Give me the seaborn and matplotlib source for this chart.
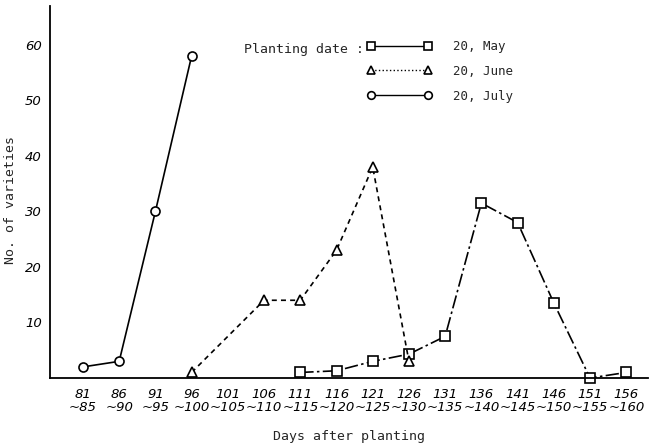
import matplotlib
matplotlib.use("Agg")
import matplotlib.pyplot as plt
import seaborn as sns
import pandas as pd
from matplotlib.lines import Line2D

# ---- data ----
categories = ["81\n~85", "86\n~90", "91\n~95", "96\n~100", "101\n~105", "106\n~110",
              "111\n~115", "116\n~120", "121\n~125", "126\n~130", "131\n~135",
              "136\n~140", "141\n~145", "146\n~150", "151\n~155", "156\n~160"]

may_idx = [6, 7, 8, 9, 10, 11, 12, 13, 14, 15]
may_vals = [1, 1.3, 3, 4.3, 7.5, 31.5, 28, 13.5, 0, 1]

june_idx = [3, 5, 6, 7, 8, 9]
june_vals = [1, 14, 14, 23, 38, 3]

july_idx = [0, 1, 2, 3]
july_vals = [2, 3, 30, 58]

y_ticks = [10, 20, 30, 40, 50, 60]
series_labels = ["20, May", "20, June", "20, July"]

# ---- figure ----
sns.set_theme(style="white")
plt.rcParams["font.family"] = ["DejaVu Sans"]

fig = plt.figure(figsize=(6.52, 4.44), dpi=100)
ax = fig.add_axes([50 / 652, 1 - 378 / 444, 598 / 652, 372 / 444])

mono = "DejaVu Sans Mono"
common = dict(color="black", linewidth=1.2, markersize=6.5, markerfacecolor="white",
              markeredgecolor="black", markeredgewidth=1.2, clip_on=False,
              errorbar=None, ax=ax)

df_may = pd.DataFrame({"x": may_idx, "y": may_vals})
df_june = pd.DataFrame({"x": june_idx, "y": june_vals})
df_july = pd.DataFrame({"x": july_idx, "y": july_vals})

sns.lineplot(data=df_may, x="x", y="y", marker="s", linestyle=(0, (8, 2, 1.5, 2)), **common)
sns.lineplot(data=df_june, x="x", y="y", marker="^", linestyle=(0, (3, 2.5)), **common)
sns.lineplot(data=df_july, x="x", y="y", marker="o", linestyle="-", **common)

ax.set_xlim(-0.91, 15.6)
ax.set_ylim(0, 67)

ax.set_xticks(range(len(categories)))
ax.set_xticklabels(categories, fontsize=9.5, fontstyle="italic", linespacing=1.0)
ax.set_yticks(y_ticks)
ax.set_yticklabels([str(v) for v in y_ticks], fontsize=9.5, fontstyle="italic")

for s in ["top", "right"]:
    ax.spines[s].set_visible(False)
for s in ["left", "bottom"]:
    ax.spines[s].set_color("black")
    ax.spines[s].set_linewidth(1.3)
ax.tick_params(axis="both", direction="inout", length=4, width=1, colors="black")
ax.tick_params(axis="x", pad=5)
ax.tick_params(axis="y", pad=4)

ax.set_xlabel("Days after planting", fontfamily=mono, fontsize=9.5, labelpad=12)
ax.set_ylabel("No. of varieties", fontfamily=mono, fontsize=9.5)
ax.yaxis.set_label_coords((17 - 50) / 598, (378 - 200) / 372)

# ---- legend ----
fig.text(244 / 652, 1 - 49 / 444, "Planting date :", fontfamily=mono, fontsize=9.5,
         va="center", ha="left")
mk = dict(color="black", lw=1.0, markersize=5.5, markerfacecolor="white",
          markeredgecolor="black", markeredgewidth=1.2)
handles = [
    Line2D([], [], marker="s", linestyle="-", **mk),
    Line2D([], [], marker="^", linestyle=":", **mk),
    Line2D([], [], marker="o", linestyle="-", **mk),
]
fig.legend(handles, series_labels, loc="upper left", bbox_to_anchor=(367 / 652, 1 - 40 / 444),
           frameon=False, numpoints=2, handlelength=5.2, handletextpad=1.7,
           labelspacing=0.95, borderpad=0, borderaxespad=0,
           prop={"family": mono, "size": 9})

fig.savefig("out.png", dpi=100)
